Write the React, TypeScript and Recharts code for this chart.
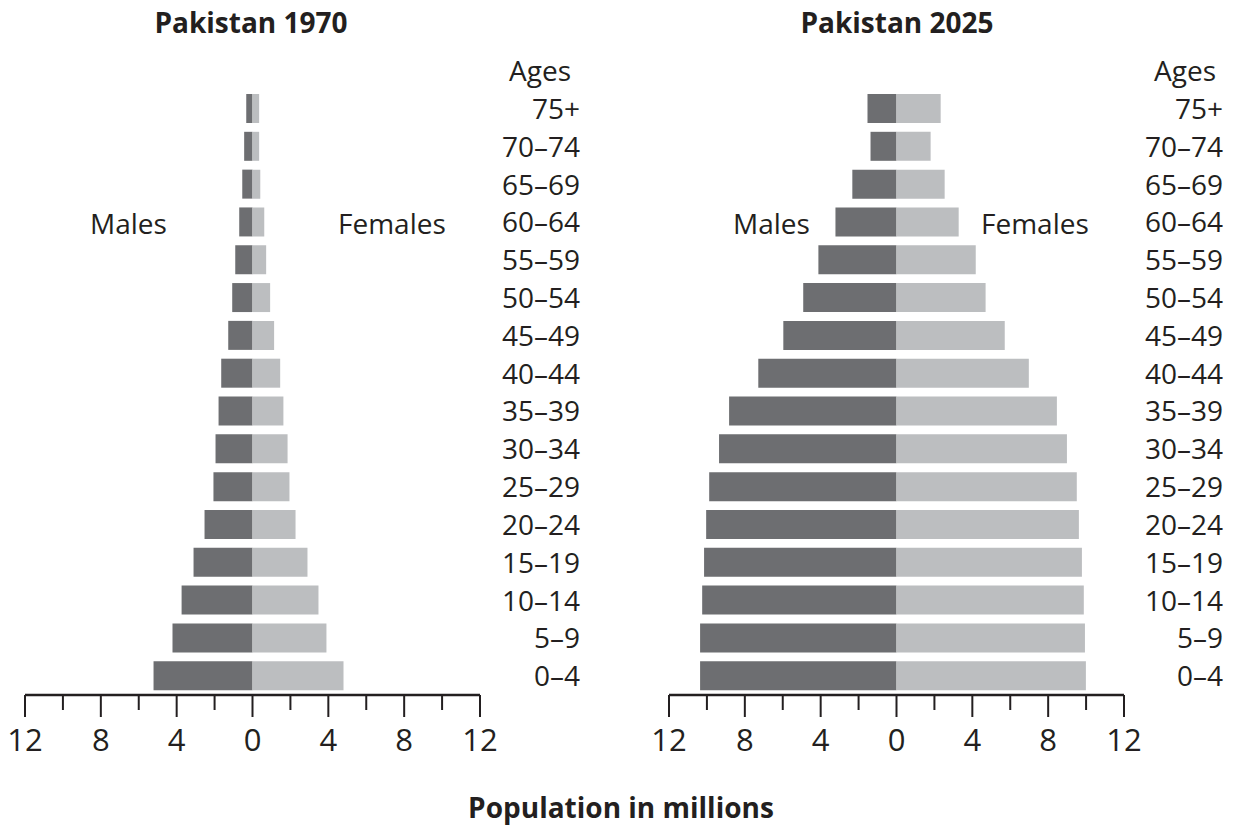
import React from 'react';
import { BarChart, Bar, XAxis, YAxis } from 'recharts';

// age groups, top of pyramid first
const ages = ['75+', '70–74', '65–69', '60–64', '55–59', '50–54', '45–49', '40–44', '35–39', '30–34', '25–29', '20–24', '15–19', '10–14', '5–9', '0–4'];

// population in millions
const males1970 = [0.33, 0.44, 0.54, 0.7, 0.91, 1.07, 1.28, 1.65, 1.79, 1.95, 2.06, 2.53, 3.11, 3.74, 4.22, 5.22];
const females1970 = [0.35, 0.35, 0.41, 0.62, 0.72, 0.93, 1.14, 1.46, 1.63, 1.85, 1.95, 2.27, 2.9, 3.48, 3.9, 4.8];
const males2025 = [1.53, 1.37, 2.33, 3.22, 4.12, 4.92, 5.97, 7.29, 8.83, 9.36, 9.88, 10.04, 10.15, 10.25, 10.36, 10.36];
const females2025 = [2.33, 1.8, 2.54, 3.28, 4.18, 4.7, 5.71, 6.98, 8.46, 8.99, 9.51, 9.62, 9.78, 9.88, 9.94, 9.99];

const xTicks = [-12, -10, -8, -6, -4, -2, 0, 2, 4, 6, 8, 10, 12];

const MALE = '#6d6e71';
const FEMALE = '#bcbec0';
const INK = '#231f20';
const FONT = '"Open Sans", sans-serif';

const buildData = (males: number[], females: number[]) =>
  ages.map((age, i) => ({ age, male: -males[i], female: females[i] }));

const XTick = ({ x, y, payload }: any) => {
  const v = payload.value;
  const major = v % 4 === 0;
  return (
    <g>
      <line x1={x} x2={x} y1={y} y2={y + (major ? 22 : 15)} stroke={INK} strokeWidth={2} />
      {major && (
        <text x={x} y={y + 56} textAnchor="middle" fontFamily={FONT} fontSize={31} fill={INK}>
          {Math.abs(v)}
        </text>
      )}
    </g>
  );
};

const makeYTick = (offset: number) => ({ x, y, payload }: any) => (
  <text x={x + offset} y={y} dy="0.36em" textAnchor="end" fontFamily={FONT} fontSize={28} fill={INK}>
    {payload.value}
  </text>
);

type PyramidProps = {
  data: any[];
  left: number;
  width: number;
  marginLeft: number;
  axisWidth: number;
  labelOffset: number;
};

const Pyramid = ({ data, left, width, marginLeft, axisWidth, labelOffset }: PyramidProps) => (
  <div style={{ position: 'absolute', left, top: 0 }}>
    <BarChart
      width={width}
      height={780}
      data={data}
      layout="vertical"
      stackOffset="sign"
      barSize={29}
      margin={{ top: 90, right: 0, bottom: 15, left: marginLeft }}
    >
      <XAxis
        type="number"
        domain={[-12, 12]}
        ticks={xTicks}
        allowDataOverflow
        height={70}
        axisLine={{ stroke: INK, strokeWidth: 2.5 }}
        tickLine={false}
        tickSize={0}
        tickMargin={0}
        tick={<XTick />}
        interval={0}
      />
      <YAxis
        type="category"
        dataKey="age"
        orientation="right"
        width={axisWidth}
        axisLine={false}
        tickLine={false}
        tickSize={0}
        tickMargin={0}
        interval={0}
        tick={makeYTick(labelOffset)}
      />
      <Bar dataKey="male" stackId="p" fill={MALE} isAnimationActive={false} />
      <Bar dataKey="female" stackId="p" fill={FEMALE} isAnimationActive={false} />
    </BarChart>
  </div>
);

export default function App() {
  const txt = { fontFamily: FONT, fill: INK };
  return (
    <div style={{ position: 'absolute', left: 0, top: 0, width: 1235, height: 838, background: '#fff', overflow: 'hidden' }}>
      <Pyramid data={buildData(males1970, females1970)} left={0} width={620} marginLeft={25} axisWidth={140} labelOffset={100} />
      <Pyramid data={buildData(males2025, females2025)} left={640} width={595} marginLeft={29} axisWidth={111} labelOffset={99} />
      <svg width={1235} height={838} style={{ position: 'absolute', left: 0, top: 0, pointerEvents: 'none' }}>
        <text x={251} y={33} textAnchor="middle" fontSize={28} fontWeight="bold" {...txt}>Pakistan 1970</text>
        <text x={897} y={33} textAnchor="middle" fontSize={28} fontWeight="bold" {...txt}>Pakistan 2025</text>
        <text x={571} y={81} textAnchor="end" fontSize={28} {...txt}>Ages</text>
        <text x={1216} y={81} textAnchor="end" fontSize={28} {...txt}>Ages</text>
        <text x={90} y={234} fontSize={28} {...txt}>Males</text>
        <text x={338} y={234} fontSize={28} {...txt}>Females</text>
        <text x={733} y={234} fontSize={28} {...txt}>Males</text>
        <text x={981} y={234} fontSize={28} {...txt}>Females</text>
        <text x={621} y={818} textAnchor="middle" fontSize={28} fontWeight="bold" {...txt}>Population in millions</text>
      </svg>
    </div>
  );
}
